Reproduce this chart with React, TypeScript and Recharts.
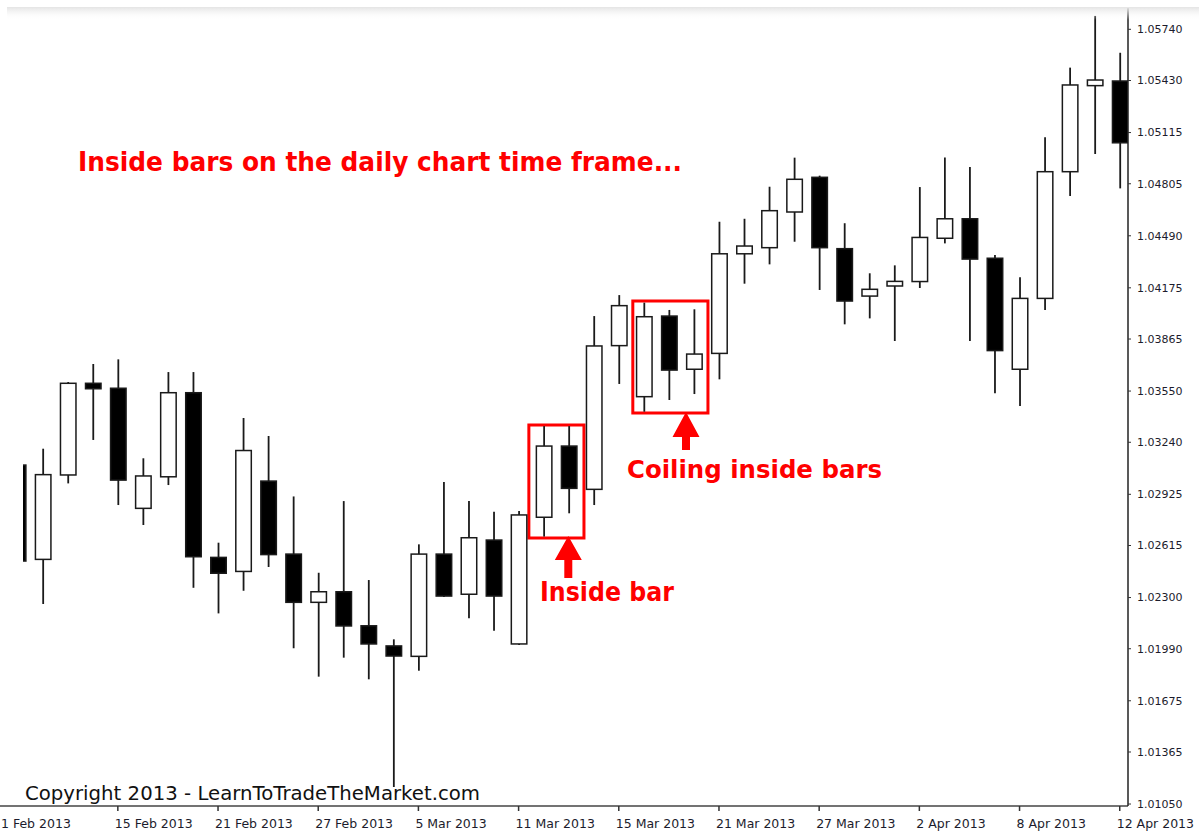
import { Bar, ComposedChart, ReferenceArea, XAxis, YAxis } from 'recharts';

// daily EURUSD-style candles (index 0 is the bar cut off at the left edge)
const opens = [
  1.03102, 1.02531, 1.03042, 1.03597, 1.03567, 1.0284, 1.03031, 1.0354, 1.02543, 1.02458,
  1.03005, 1.02563, 1.02271, 1.02335, 1.02129, 1.02007, 1.01944, 1.02563, 1.0232, 1.02648,
  1.02019, 1.02786, 1.03217, 1.02955, 1.03825, 1.03516, 1.04004, 1.03682, 1.03778, 1.04381,
  1.04418, 1.04634, 1.04844, 1.04412, 1.04125, 1.04186, 1.04213, 1.04475, 1.04593, 1.04354,
  1.03682, 1.04111, 1.04878, 1.05399, 1.05427,
];
const closes = [
  1.02521, 1.03044, 1.03597, 1.03564, 1.03011, 1.03036, 1.0354, 1.02547, 1.02447, 1.0319,
  1.0256, 1.02271, 1.02335, 1.02128, 1.02019, 1.01946, 1.02563, 1.02309, 1.02662, 1.02309,
  1.028, 1.03217, 1.02961, 1.03823, 1.04067, 1.04, 1.03677, 1.03774, 1.04381, 1.04428,
  1.04642, 1.04832, 1.04418, 1.04095, 1.04166, 1.04214, 1.0448, 1.04593, 1.04349, 1.03795,
  1.04111, 1.04878, 1.05403, 1.05433, 1.05053,
];
const highs = [
  1.0312, 1.03201, 1.03605, 1.03714, 1.03742, 1.03143, 1.03665, 1.03665, 1.02632, 1.03387,
  1.03278, 1.02912, 1.0245, 1.02884, 1.02406, 1.02047, 1.02622, 1.02999, 1.02884, 1.0282,
  1.02824, 1.03338, 1.03338, 1.04004, 1.04131, 1.04085, 1.04041, 1.04045, 1.04575, 1.04593,
  1.04787, 1.04963, 1.04854, 1.04566, 1.04263, 1.04311, 1.04785, 1.04964, 1.04906, 1.04374,
  1.04239, 1.05086, 1.05508, 1.05821, 1.05598,
];
const lows = [
  1.025, 1.02261, 1.02991, 1.03254, 1.0286, 1.02739, 1.02981, 1.02359, 1.02204, 1.02341,
  1.02485, 1.01993, 1.01821, 1.01936, 1.01805, 1.01153, 1.01857, 1.02303, 1.02174, 1.02099,
  1.02013, 1.02669, 1.0281, 1.0286, 1.03593, 1.03425, 1.03496, 1.03532, 1.03621, 1.042,
  1.04317, 1.04454, 1.04162, 1.03954, 1.0399, 1.03853, 1.04174, 1.04444, 1.03853, 1.03536,
  1.03459, 1.04041, 1.04731, 1.04985, 1.04777,
];

const priceTicks = [
  1.0105, 1.01365, 1.01675, 1.0199, 1.023, 1.02615, 1.02925, 1.0324, 1.0355, 1.03865,
  1.04175, 1.0449, 1.04805, 1.05115, 1.0543, 1.0574,
];
const dateTickIndex = [1, 4, 8, 12, 16, 20, 24, 28, 32, 36, 40, 44];
const dateTickLabels = [
  '1 Feb 2013', '15 Feb 2013', '21 Feb 2013', '27 Feb 2013', '5 Mar 2013', '11 Mar 2013',
  '15 Mar 2013', '21 Mar 2013', '27 Mar 2013', '2 Apr 2013', '8 Apr 2013', '12 Apr 2013',
];

const data = opens.map((open, i) => ({
  i,
  open,
  close: closes[i],
  high: highs[i],
  low: lows[i],
  range: [lows[i], highs[i]],
}));

const RED = '#ff0000';
const AXIS_FONT = '"DejaVu Sans", Tahoma, sans-serif';
const NOTE_FONT = 'Tahoma, "DejaVu Sans", sans-serif';

function Candle(props: any) {
  const { x, y, width, height, payload } = props;
  if (!payload) return null;
  const { open, close, high, low } = payload;
  const top = Math.min(y, y + height);
  const h = Math.abs(height);
  const cx = x + width / 2;
  const ratio = high === low ? 0 : h / (high - low);
  const py = (v: number) => top + (high - v) * ratio;
  const bull = close >= open;
  const bodyTop = py(Math.max(open, close));
  const bodyBottom = py(Math.min(open, close));
  const bw = 15.5;
  return (
    <g>
      <line x1={cx} x2={cx} y1={top} y2={top + h} stroke="#1a1a1a" strokeWidth={1.8} />
      <rect
        x={cx - bw / 2}
        y={bodyTop}
        width={bw}
        height={Math.max(bodyBottom - bodyTop, 1.5)}
        fill={bull ? '#ffffff' : '#000000'}
        stroke="#1a1a1a"
        strokeWidth={1.5}
      />
    </g>
  );
}

function DateTick(props: any) {
  const { x, y, payload, index } = props;
  const k = dateTickIndex.indexOf(payload.value);
  const label = dateTickLabels[k] ?? '';
  if (index === 0) {
    return (
      <text x={1} y={y + 22} fontSize={12.5} fontFamily={AXIS_FONT} fill="#1c1c2c">
        {label}
      </text>
    );
  }
  return (
    <g>
      <line x1={x} x2={x} y1={y} y2={y + 5} stroke="#333" strokeWidth={1.5} />
      <text x={x - 3} y={y + 22} fontSize={12.5} fontFamily={AXIS_FONT} fill="#1c1c2c">
        {label}
      </text>
    </g>
  );
}

function Arrow({ x, tip, base, end }: { x: number; tip: number; base: number; end: number }) {
  const hw = 13.5;
  const sw = 4;
  const d = `M ${x} ${tip} L ${x + hw} ${base} L ${x + sw} ${base} L ${x + sw} ${end} L ${x - sw} ${end} L ${x - sw} ${base} L ${x - hw} ${base} Z`;
  return <path d={d} fill={RED} />;
}

export default function App() {
  return (
    <div style={{ position: 'absolute', left: 0, top: 0, width: 1199, height: 834, background: '#fff' }}>
      <ComposedChart
        width={1199}
        height={834}
        data={data}
        margin={{ top: 8, right: 0, bottom: 0, left: 23 }}
      >
        <XAxis
          dataKey="i"
          type="number"
          domain={[0.2136, 44.33]}
          allowDataOverflow
          ticks={dateTickIndex}
          interval={0}
          height={28}
          tickSize={0}
          tickMargin={0}
          tickLine={false}
          tick={<DateTick />}
          axisLine={{ stroke: '#444', strokeWidth: 1.5 }}
        />
        <YAxis
          orientation="right"
          type="number"
          domain={[1.01038, 1.05869]}
          allowDataOverflow
          ticks={priceTicks}
          interval={0}
          width={71}
          tickSize={3}
          tickMargin={6}
          tickFormatter={(v: number) => v.toFixed(5)}
          tick={{ fontSize: 11, fontFamily: AXIS_FONT, fill: '#1c1c2c', textAnchor: 'start' }}
          tickLine={{ stroke: '#333' }}
          axisLine={{ stroke: '#222', strokeWidth: 1.5 }}
        />
        <Bar dataKey="range" barSize={16} shape={<Candle />} isAnimationActive={false} />
        <ReferenceArea
          x1={20.41}
          x2={22.61}
          y1={1.0266}
          y2={1.03344}
          stroke={RED}
          strokeWidth={3}
          fill="none"
          fillOpacity={0}
        />
        <ReferenceArea
          x1={24.56}
          x2={27.56}
          y1={1.03417}
          y2={1.04095}
          stroke={RED}
          strokeWidth={3}
          fill="none"
          fillOpacity={0}
        />
      </ComposedChart>
      <svg
        width={1199}
        height={834}
        style={{ position: 'absolute', left: 0, top: 0, pointerEvents: 'none' }}
      >
        <defs>
          <linearGradient id="topShade" x1="0" y1="0" x2="0" y2="1">
            <stop offset="0" stopColor="#e4e4e4" />
            <stop offset="1" stopColor="#ffffff" stopOpacity={0} />
          </linearGradient>
        </defs>
        <rect x={7} y={7} width={1192} height={13} fill="url(#topShade)" />
        <line x1={0} x2={23} y1={806} y2={806} stroke="#444" strokeWidth={1.5} />
        <text
          x={78}
          y={171}
          fontSize={27}
          fontWeight="bold"
          fontFamily={NOTE_FONT}
          fill={RED}
          textLength={604}
          lengthAdjust="spacingAndGlyphs"
        >
          Inside bars on the daily chart time frame...
        </text>
        <text
          x={627}
          y={478}
          fontSize={24.5}
          fontWeight="bold"
          fontFamily={NOTE_FONT}
          fill={RED}
          textLength={255}
          lengthAdjust="spacingAndGlyphs"
        >
          Coiling inside bars
        </text>
        <text
          x={540}
          y={601}
          fontSize={26}
          fontWeight="bold"
          fontFamily={NOTE_FONT}
          fill={RED}
          textLength={134}
          lengthAdjust="spacingAndGlyphs"
        >
          Inside bar
        </text>
        <Arrow x={568.3} tip={536} base={560} end={578} />
        <Arrow x={686} tip={412} base={437} end={450} />
        <text
          x={25}
          y={800}
          fontSize={19}
          fontFamily={NOTE_FONT}
          fill="#111"
          textLength={455}
          lengthAdjust="spacingAndGlyphs"
        >
          Copyright 2013 - LearnToTradeTheMarket.com
        </text>
      </svg>
    </div>
  );
}
